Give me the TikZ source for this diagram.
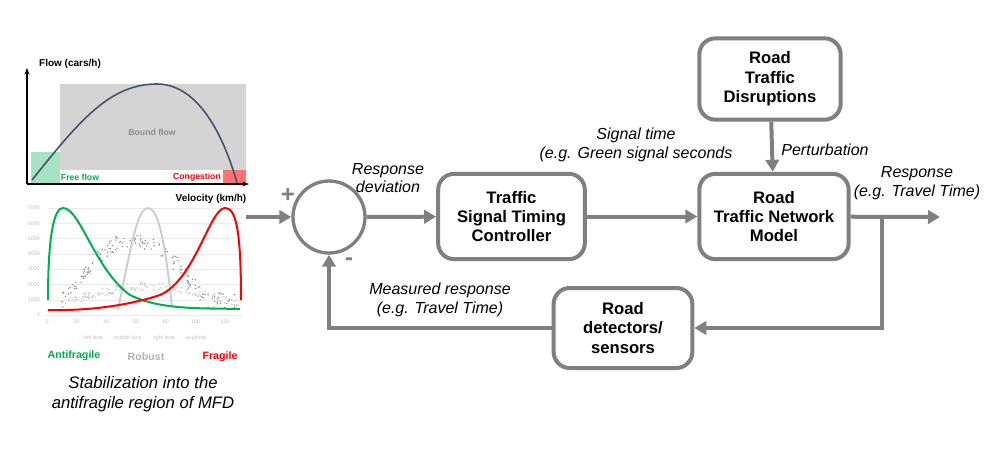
\documentclass[tikz,border=0pt]{standalone}
\usepackage{fontspec}
\setmainfont{Liberation Sans}
\usetikzlibrary{arrows.meta}
\definecolor{ln}{HTML}{808080}
\definecolor{gf}{HTML}{00B050}
\definecolor{rf}{HTML}{FF0000}
\definecolor{bc}{HTML}{44546A}
\begin{document}
\begin{tikzpicture}[x=0.75pt,y=-0.75pt,
  box/.style={draw=ln,line width=3pt,rounded corners=12pt,fill=white,font=\bfseries\fontsize{12.5}{14.5}\selectfont,align=center,inner sep=0pt},
  conn/.style={draw=ln,line width=3pt,-{Triangle[length=9pt,width=10pt]}},
  lbl/.style={font=\itshape\fontsize{12}{14}\selectfont,align=center,inner sep=0pt},
  tick/.style={font=\fontsize{4}{5}\selectfont,text=black!25,inner sep=0pt}]
\useasboundingbox (0,0) rectangle (997,451);
% ---- top MFD plot
\fill[black!17] (60,84) rectangle (246,170);
\fill[gf!35] (31,152) rectangle (60,183);
\fill[rf!55] (223,170) rectangle (246,183);
\draw[bc,line width=1.2pt] (32,180) .. controls (80,120) and (110,84) .. (157,84) .. controls (200,84) and (225,140) .. (237,183);
\draw[line width=1pt,-{Stealth[length=5pt]}] (27,184) -- (27,68);
\draw[line width=1pt,-{Stealth[length=5pt]}] (27,184) -- (249,184);
\node[font=\bfseries\fontsize{7.5}{9}\selectfont] (fl) at (70,64) {Flow (cars/h)};
\node[font=\bfseries\fontsize{7.5}{9}\selectfont] (vl) at (211,199) {Velocity (km/h)};
\node[font=\bfseries\fontsize{6.5}{8}\selectfont,text=black!45] (bf) at (152,132) {Bound flow};
\node[font=\bfseries\fontsize{6.5}{8}\selectfont,text=gf] (ff) at (80,177) {Free flow};
\node[font=\bfseries\fontsize{6.5}{8}\selectfont,text=rf] (cg) at (197,177) {Congestion};
% ---- bottom chart
\foreach \v [count=\i from 0] in {0,1000,2000,3000,4000,5000,6000,7000}
  {\draw[black!8,line width=0.3pt] (47,315-15.3*\i) -- (242,315-15.3*\i);
   \node[tick,anchor=east] (yt\i) at (40,315-15.3*\i) {\v};}
\foreach \v [count=\i from 0] in {0,20,40,60,80,100,120}
  {\node[tick] (xt\i) at (47+29.7*\i,322) {\v};}
\pgfmathsetseed{7}
\foreach \k in {1,...,160}{
  \pgfmathsetmacro{\u}{rnd}
  \pgfmathsetmacro{\xx}{62+175*\u}
  \pgfmathsetmacro{\yy}{300-60*sin(min(180,\u*220))+8*rand}
  \fill[black!45] (\xx,\yy) circle (0.8);
  \pgfmathsetmacro{\yb}{304-18*sin(\u*180)+4*rand}
  \fill[black!22] (\xx,\yb) circle (0.8);}
\draw[black!20,line width=1.4pt] (118,310) .. controls (132,240) and (138,208) .. (148,208) .. controls (158,208) and (165,240) .. (172,307);
\draw[gf,line width=1.5pt] (48,300) .. controls (48,230) and (55,208) .. (63,208) .. controls (80,208) and (95,270) .. (130,295) .. controls (160,310) and (200,308) .. (240,309);
\draw[rf,line width=1.5pt] (48,310) .. controls (90,311) and (130,305) .. (160,295) .. controls (195,280) and (210,208) .. (225,208) .. controls (236,208) and (241,230) .. (241,300);
\node[tick] (leg) at (143,338) {$\cdot$ left lane \quad $\cdot$ middle lane \quad $\cdot$ right lane \quad $\cdot$ avg/total};
\node[font=\bfseries\fontsize{8}{10}\selectfont,text=gf] (af) at (74,356) {Antifragile};
\node[font=\bfseries\fontsize{8}{10}\selectfont,text=black!30] (rb) at (146,357) {Robust};
\node[font=\bfseries\fontsize{8}{10}\selectfont,text=rf] (fr) at (220,357) {Fragile};
\node[lbl,font=\itshape\fontsize{12.5}{15}\selectfont] (cap) at (143,394) {Stabilization into the\\ antifragile region of MFD};
% ---- block diagram
\coordinate (in) at (246,217);
\node[draw=ln,line width=2.5pt,circle,minimum size=54pt,inner sep=0pt] (sum) at (329,217) {};
\node[box,minimum width=110pt,minimum height=64pt] (ctl) at (511.5,216.5) {Traffic\\Signal Timing\\Controller};
\node[box,minimum width=112pt,minimum height=64pt] (mod) at (774,216.5) {Road\\Traffic Network\\Model};
\node[box,minimum width=106pt,minimum height=61pt] (dis) at (770,79) {Road\\Traffic\\Disruptions};
\node[box,minimum width=104pt,minimum height=60pt] (sen) at (623,328) {Road\\detectors/\\sensors};
\coordinate (out) at (940,217);
\coordinate (br) at (882,217);
\draw[conn] (in) -- (sum);
\draw[conn] (sum) -- (ctl);
\draw[conn] (ctl) -- (mod);
\draw[conn] (dis) -- (mod);
\draw[conn] (mod) -- (out);
\draw[conn] (br) |- (sen);
\draw[conn] (sen.west) -| (sum.south);
\node[font=\bfseries\fontsize{18}{18}\selectfont,text=ln] (plus) at (288,195) {+};
\node[font=\bfseries\fontsize{18}{18}\selectfont,text=ln] (minus) at (349,262) {-};
\node[lbl] (l1) at (388,178) {Response\\deviation};
\node[lbl] (l2) at (636,145) {Signal time\\(e.g. Green signal seconds};
\node[lbl] (l3) at (825,150) {Perturbation};
\node[lbl] (l4) at (917,183) {Response\\(e.g. Travel Time)};
\node[lbl] (l5) at (440,300) {Measured response\\(e.g. Travel Time)};
\end{tikzpicture}
\end{document}
